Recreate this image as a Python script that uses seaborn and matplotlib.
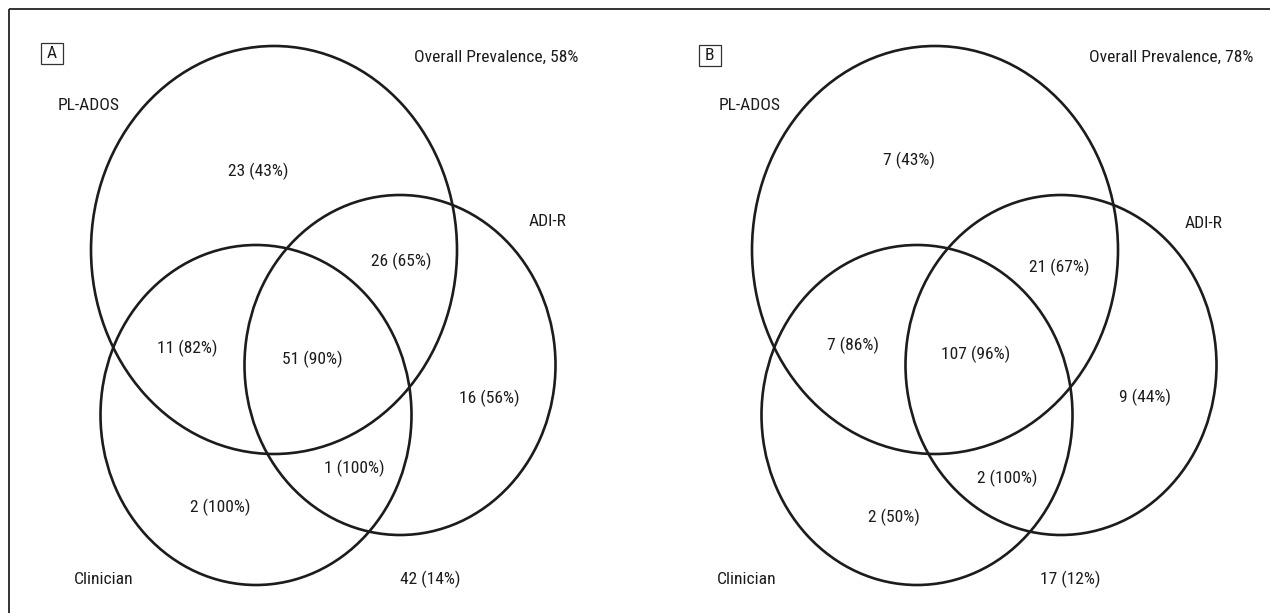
'''
Venn diagrams: PL-ADOS / ADI-R / Clinician agreement, two samples
'''
import numpy as np
import matplotlib
matplotlib.use("Agg")
import matplotlib.pyplot as plt
from matplotlib.patches import Ellipse, Rectangle
from matplotlib import font_manager
import seaborn as sns

# data
set_names = ["PL-ADOS", "ADI-R", "Clinician"]
panel_tags = ["A", "B"]
prevalence = [58, 78]

# region order: PL-ADOS only, PL-ADOS & ADI-R, PL-ADOS & Clinician, all three,
#               ADI-R only, ADI-R & Clinician, Clinician only, none
counts_a = [23, 26, 11, 51, 16, 1, 2, 42]
pcts_a = [43, 65, 82, 90, 56, 100, 100, 14]
counts_b = [7, 21, 7, 107, 9, 2, 2, 17]
pcts_b = [43, 67, 86, 96, 44, 100, 50, 12]

# layout (pixel space; ellipses of panel B are those of A shifted right)
panel_shift = [0, 661]
ellipses = [(274, 250, 366, 408),   # PL-ADOS  (cx, cy, w, h)
            (400, 365, 311, 340),   # ADI-R
            (256, 415, 311, 340)]   # Clinician
set_label_pos = [[(89, 106), (548, 222), (104, 579)],
                 [(750, 106), (1204, 223), (747, 579)]]
region_pos = [[(258, 171), (401, 261), (187, 348), (312, 359),
               (489, 398), (354, 468), (220, 507), (430, 579)],
              [(909, 160), (1059, 267), (853, 345), (976, 354),
               (1145, 397), (1007, 478), (894, 517), (1070, 579)]]
tag_pos = [(51.5, 53), (709.5, 55)]
prev_pos = [(578, 57), (1253, 57)]

sns.set_theme(style="white")
names = {f.name for f in font_manager.fontManager.ttflist}
narrow = [n for n in ["Liberation Sans Narrow", "Roboto Condensed", "Open Sans Condensed"]
          if n in names]
plt.rcParams["font.family"] = narrow + ["DejaVu Sans"]
plt.rcParams["font.stretch"] = "condensed"
fs = 12.6
ink = "#1c1c1c"

fig = plt.figure(figsize=(12.7, 6.13), dpi=100)
ax = fig.add_axes([0, 0, 1, 1])
ax.set_xlim(0, 1270)
ax.set_ylim(613, 0)
ax.axis("off")

# frame (top and left only)
ax.plot([9, 1270], [9, 9], color="#333333", lw=1.4, solid_capstyle="butt")
ax.plot([9, 9], [9, 613], color="#333333", lw=1.4, solid_capstyle="butt")

panels = [(counts_a, pcts_a), (counts_b, pcts_b)]
for i, (counts, pcts) in enumerate(panels):
    dx = panel_shift[i]
    for cx, cy, w, h in ellipses:
        ax.add_patch(Ellipse((cx + dx, cy), w, h, fill=False, ec=ink, lw=1.9))
    for name, (x, y) in zip(set_names, set_label_pos[i]):
        ax.text(x, y, name, ha="center", va="center", fontsize=fs, color=ink)
    for c, p, (x, y) in zip(counts, pcts, region_pos[i]):
        ax.text(x, y, f"{c} ({p}%)", ha="center", va="center", fontsize=fs, color=ink)
    tx, ty = tag_pos[i]
    ax.add_patch(Rectangle((tx - 11, ty - 10.5), 22, 21,
                           fill=False, ec="#333333", lw=0.9))
    ax.text(tx, ty, panel_tags[i], ha="center", va="center", fontsize=fs, color=ink)
    ax.text(prev_pos[i][0], prev_pos[i][1], f"Overall Prevalence, {prevalence[i]}%",
            ha="right", va="center", fontsize=fs, color=ink)

fig.savefig("out.png", dpi=100, facecolor="white")
